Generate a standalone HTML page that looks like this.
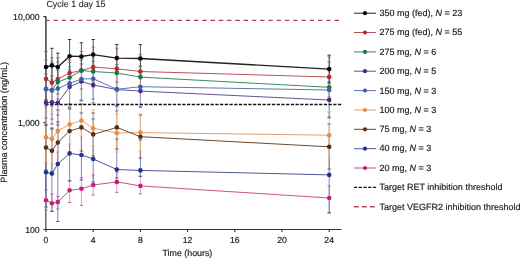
<!DOCTYPE html>
<html><head><meta charset="utf-8"><style>
html,body{margin:0;padding:0;background:#fff;}
svg{display:block;font-family:"Liberation Sans",sans-serif;will-change:transform;} text{text-rendering:geometricPrecision;stroke:#222;stroke-width:0.18px;}
</style></head><body>
<svg width="520" height="258" viewBox="0 0 520 258">
<rect width="520" height="258" fill="#fff"/>
<text x="46.4" y="6.8" font-size="8.95" fill="#2a2a2a" style="stroke-width:0.1px">Cycle 1 day 15</text>
<g stroke="#333" stroke-width="1.1" fill="none">
<path d="M45.85 16.3V230M45.4 229.5H341.5"/>
<path d="M43.3 16.6h2.6M43.3 122.6h2.6M43.3 229.5h2.6"/>
<path d="M46.0 229.5v2.6"/><path d="M93.2 229.5v2.6"/><path d="M140.4 229.5v2.6"/><path d="M187.6 229.5v2.6"/><path d="M234.8 229.5v2.6"/><path d="M282.0 229.5v2.6"/><path d="M329.2 229.5v2.6"/>
</g>
<g fill="none" stroke-width="0.85"><path d="M329.2 186.0V212.5" stroke="#e08cba"/><path d="M140.4 176.0V193.8" stroke="#e08cba"/><path d="M116.8 172.0V192.3" stroke="#e08cba"/><path d="M93.2 175.0V195.0" stroke="#e08cba"/><path d="M81.4 177.8V205.4" stroke="#e08cba"/><path d="M69.6 180.7V202.5" stroke="#e08cba"/><path d="M57.8 196.4V209.0" stroke="#e08cba"/><path d="M51.9 194.0V211.3" stroke="#e08cba"/><path d="M46.0 190.0V210.0" stroke="#e08cba"/><path d="M329.2 135.0V213.0" stroke="#6470b8"/><path d="M140.4 140.0V176.5" stroke="#6470b8"/><path d="M116.8 139.0V178.0" stroke="#6470b8"/><path d="M93.2 119.0V182.0" stroke="#6470b8"/><path d="M81.4 113.0V180.0" stroke="#6470b8"/><path d="M69.6 108.0V181.0" stroke="#6470b8"/><path d="M57.8 110.0V221.5" stroke="#6470b8"/><path d="M51.9 128.0V211.3" stroke="#6470b8"/><path d="M46.0 137.0V207.0" stroke="#6470b8"/><path d="M329.2 124.0V169.0" stroke="#9a7a64"/><path d="M140.4 115.0V158.0" stroke="#9a7a64"/><path d="M116.8 106.0V149.0" stroke="#9a7a64"/><path d="M93.2 113.0V156.0" stroke="#9a7a64"/><path d="M81.4 104.0V151.0" stroke="#9a7a64"/><path d="M69.6 109.0V153.0" stroke="#9a7a64"/><path d="M57.8 122.0V163.0" stroke="#9a7a64"/><path d="M51.9 129.0V172.0" stroke="#9a7a64"/><path d="M46.0 125.0V170.0" stroke="#9a7a64"/><path d="M329.2 112.0V158.0" stroke="#f4b98a"/><path d="M140.4 114.0V151.0" stroke="#f4b98a"/><path d="M116.8 114.0V152.0" stroke="#f4b98a"/><path d="M93.2 110.0V146.0" stroke="#f4b98a"/><path d="M81.4 104.0V137.0" stroke="#f4b98a"/><path d="M69.6 105.0V144.0" stroke="#f4b98a"/><path d="M57.8 110.0V152.0" stroke="#f4b98a"/><path d="M51.9 114.0V164.0" stroke="#f4b98a"/><path d="M46.0 112.0V162.0" stroke="#f4b98a"/><path d="M329.2 62.0V118.0" stroke="#8ea8d4"/><path d="M140.4 66.0V107.0" stroke="#8ea8d4"/><path d="M116.8 67.0V111.0" stroke="#8ea8d4"/><path d="M93.2 58.0V99.0" stroke="#8ea8d4"/><path d="M81.4 58.0V100.0" stroke="#8ea8d4"/><path d="M69.6 60.0V107.0" stroke="#8ea8d4"/><path d="M57.8 62.0V115.0" stroke="#8ea8d4"/><path d="M51.9 62.0V119.0" stroke="#8ea8d4"/><path d="M46.0 60.0V118.0" stroke="#8ea8d4"/><path d="M329.2 82.0V117.0" stroke="#9a8cc4"/><path d="M140.4 75.0V107.0" stroke="#9a8cc4"/><path d="M116.8 73.0V106.0" stroke="#9a8cc4"/><path d="M93.2 67.0V103.0" stroke="#9a8cc4"/><path d="M81.4 64.0V101.0" stroke="#9a8cc4"/><path d="M69.6 70.0V104.0" stroke="#9a8cc4"/><path d="M57.8 81.0V125.0" stroke="#9a8cc4"/><path d="M51.9 80.0V124.0" stroke="#9a8cc4"/><path d="M46.0 80.0V125.0" stroke="#9a8cc4"/><path d="M329.2 76.0V99.0" stroke="#7ab098"/><path d="M140.4 66.8V87.5" stroke="#7ab098"/><path d="M116.8 64.5V82.0" stroke="#7ab098"/><path d="M93.2 61.0V82.0" stroke="#7ab098"/><path d="M81.4 60.0V81.0" stroke="#7ab098"/><path d="M69.6 67.0V88.0" stroke="#7ab098"/><path d="M57.8 70.0V94.0" stroke="#7ab098"/><path d="M51.9 76.0V104.0" stroke="#7ab098"/><path d="M46.0 74.0V104.0" stroke="#7ab098"/><path d="M329.2 56.9V97.0" stroke="#d98890"/><path d="M140.4 54.8V88.0" stroke="#d98890"/><path d="M116.8 48.2V89.0" stroke="#d98890"/><path d="M93.2 47.0V87.0" stroke="#d98890"/><path d="M81.4 51.6V89.0" stroke="#d98890"/><path d="M69.6 62.5V84.0" stroke="#d98890"/><path d="M57.8 57.8V99.0" stroke="#d98890"/><path d="M51.9 57.8V106.0" stroke="#d98890"/><path d="M46.0 51.6V106.0" stroke="#d98890"/><path d="M329.2 55.2V83.0" stroke="#3a3a3a"/><path d="M140.4 44.6V72.5" stroke="#3a3a3a"/><path d="M116.8 44.6V71.5" stroke="#3a3a3a"/><path d="M93.2 39.5V70.0" stroke="#3a3a3a"/><path d="M81.4 42.8V70.0" stroke="#3a3a3a"/><path d="M69.6 39.5V73.0" stroke="#3a3a3a"/><path d="M57.8 53.2V80.0" stroke="#3a3a3a"/><path d="M51.9 48.3V82.0" stroke="#3a3a3a"/><path d="M46.0 16.6V100.0" stroke="#3a3a3a"/></g>
<g fill="none" stroke-width="0.9"><path d="M327.5 186.0h3.4M327.5 212.5h3.4" stroke="#c4558e"/><path d="M138.7 176.0h3.4M138.7 193.8h3.4" stroke="#c4558e"/><path d="M115.1 172.0h3.4M115.1 192.3h3.4" stroke="#c4558e"/><path d="M91.5 175.0h3.4M91.5 195.0h3.4" stroke="#c4558e"/><path d="M79.7 177.8h3.4M79.7 205.4h3.4" stroke="#c4558e"/><path d="M67.9 180.7h3.4M67.9 202.5h3.4" stroke="#c4558e"/><path d="M56.1 196.4h3.4M56.1 209.0h3.4" stroke="#c4558e"/><path d="M50.2 194.0h3.4M50.2 211.3h3.4" stroke="#c4558e"/><path d="M44.3 190.0h3.4M44.3 210.0h3.4" stroke="#c4558e"/><path d="M327.5 135.0h3.4M327.5 213.0h3.4" stroke="#4a5698"/><path d="M138.7 140.0h3.4M138.7 176.5h3.4" stroke="#4a5698"/><path d="M115.1 139.0h3.4M115.1 178.0h3.4" stroke="#4a5698"/><path d="M91.5 119.0h3.4M91.5 182.0h3.4" stroke="#4a5698"/><path d="M79.7 113.0h3.4M79.7 180.0h3.4" stroke="#4a5698"/><path d="M67.9 108.0h3.4M67.9 181.0h3.4" stroke="#4a5698"/><path d="M56.1 110.0h3.4M56.1 221.5h3.4" stroke="#4a5698"/><path d="M50.2 128.0h3.4M50.2 211.3h3.4" stroke="#4a5698"/><path d="M44.3 137.0h3.4M44.3 207.0h3.4" stroke="#4a5698"/><path d="M327.5 124.0h3.4M327.5 169.0h3.4" stroke="#6a4a34"/><path d="M138.7 115.0h3.4M138.7 158.0h3.4" stroke="#6a4a34"/><path d="M115.1 106.0h3.4M115.1 149.0h3.4" stroke="#6a4a34"/><path d="M91.5 113.0h3.4M91.5 156.0h3.4" stroke="#6a4a34"/><path d="M79.7 104.0h3.4M79.7 151.0h3.4" stroke="#6a4a34"/><path d="M67.9 109.0h3.4M67.9 153.0h3.4" stroke="#6a4a34"/><path d="M56.1 122.0h3.4M56.1 163.0h3.4" stroke="#6a4a34"/><path d="M50.2 129.0h3.4M50.2 172.0h3.4" stroke="#6a4a34"/><path d="M44.3 125.0h3.4M44.3 170.0h3.4" stroke="#6a4a34"/><path d="M327.5 112.0h3.4M327.5 158.0h3.4" stroke="#e3a070"/><path d="M138.7 114.0h3.4M138.7 151.0h3.4" stroke="#e3a070"/><path d="M115.1 114.0h3.4M115.1 152.0h3.4" stroke="#e3a070"/><path d="M91.5 110.0h3.4M91.5 146.0h3.4" stroke="#e3a070"/><path d="M79.7 104.0h3.4M79.7 137.0h3.4" stroke="#e3a070"/><path d="M67.9 105.0h3.4M67.9 144.0h3.4" stroke="#e3a070"/><path d="M56.1 110.0h3.4M56.1 152.0h3.4" stroke="#e3a070"/><path d="M50.2 114.0h3.4M50.2 164.0h3.4" stroke="#e3a070"/><path d="M44.3 112.0h3.4M44.3 162.0h3.4" stroke="#e3a070"/><path d="M327.5 62.0h3.4M327.5 118.0h3.4" stroke="#5a7ab2"/><path d="M138.7 66.0h3.4M138.7 107.0h3.4" stroke="#5a7ab2"/><path d="M115.1 67.0h3.4M115.1 111.0h3.4" stroke="#5a7ab2"/><path d="M91.5 58.0h3.4M91.5 99.0h3.4" stroke="#5a7ab2"/><path d="M79.7 58.0h3.4M79.7 100.0h3.4" stroke="#5a7ab2"/><path d="M67.9 60.0h3.4M67.9 107.0h3.4" stroke="#5a7ab2"/><path d="M56.1 62.0h3.4M56.1 115.0h3.4" stroke="#5a7ab2"/><path d="M50.2 62.0h3.4M50.2 119.0h3.4" stroke="#5a7ab2"/><path d="M44.3 60.0h3.4M44.3 118.0h3.4" stroke="#5a7ab2"/><path d="M327.5 82.0h3.4M327.5 117.0h3.4" stroke="#64509a"/><path d="M138.7 75.0h3.4M138.7 107.0h3.4" stroke="#64509a"/><path d="M115.1 73.0h3.4M115.1 106.0h3.4" stroke="#64509a"/><path d="M91.5 67.0h3.4M91.5 103.0h3.4" stroke="#64509a"/><path d="M79.7 64.0h3.4M79.7 101.0h3.4" stroke="#64509a"/><path d="M67.9 70.0h3.4M67.9 104.0h3.4" stroke="#64509a"/><path d="M56.1 81.0h3.4M56.1 125.0h3.4" stroke="#64509a"/><path d="M50.2 80.0h3.4M50.2 124.0h3.4" stroke="#64509a"/><path d="M44.3 80.0h3.4M44.3 125.0h3.4" stroke="#64509a"/><path d="M327.5 76.0h3.4M327.5 99.0h3.4" stroke="#3a8a60"/><path d="M138.7 66.8h3.4M138.7 87.5h3.4" stroke="#3a8a60"/><path d="M115.1 64.5h3.4M115.1 82.0h3.4" stroke="#3a8a60"/><path d="M91.5 61.0h3.4M91.5 82.0h3.4" stroke="#3a8a60"/><path d="M79.7 60.0h3.4M79.7 81.0h3.4" stroke="#3a8a60"/><path d="M67.9 67.0h3.4M67.9 88.0h3.4" stroke="#3a8a60"/><path d="M56.1 70.0h3.4M56.1 94.0h3.4" stroke="#3a8a60"/><path d="M50.2 76.0h3.4M50.2 104.0h3.4" stroke="#3a8a60"/><path d="M44.3 74.0h3.4M44.3 104.0h3.4" stroke="#3a8a60"/><path d="M327.5 56.9h3.4M327.5 97.0h3.4" stroke="#b8505a"/><path d="M138.7 54.8h3.4M138.7 88.0h3.4" stroke="#b8505a"/><path d="M115.1 48.2h3.4M115.1 89.0h3.4" stroke="#b8505a"/><path d="M91.5 47.0h3.4M91.5 87.0h3.4" stroke="#b8505a"/><path d="M79.7 51.6h3.4M79.7 89.0h3.4" stroke="#b8505a"/><path d="M67.9 62.5h3.4M67.9 84.0h3.4" stroke="#b8505a"/><path d="M56.1 57.8h3.4M56.1 99.0h3.4" stroke="#b8505a"/><path d="M50.2 57.8h3.4M50.2 106.0h3.4" stroke="#b8505a"/><path d="M44.3 51.6h3.4M44.3 106.0h3.4" stroke="#b8505a"/><path d="M327.5 55.2h3.4M327.5 83.0h3.4" stroke="#222222"/><path d="M138.7 44.6h3.4M138.7 72.5h3.4" stroke="#222222"/><path d="M115.1 44.6h3.4M115.1 71.5h3.4" stroke="#222222"/><path d="M91.5 39.5h3.4M91.5 70.0h3.4" stroke="#222222"/><path d="M79.7 42.8h3.4M79.7 70.0h3.4" stroke="#222222"/><path d="M67.9 39.5h3.4M67.9 73.0h3.4" stroke="#222222"/><path d="M56.1 53.2h3.4M56.1 80.0h3.4" stroke="#222222"/><path d="M50.2 48.3h3.4M50.2 82.0h3.4" stroke="#222222"/><path d="M44.3 100.0h3.4" stroke="#222222"/></g>
<line x1="45.4" y1="104.5" x2="341.3" y2="104.5" stroke="#111" stroke-width="1.35" stroke-dasharray="3.2 1.52"/>
<line x1="45.24" y1="20.4" x2="339" y2="20.4" stroke="#b43f4a" stroke-width="1.1" stroke-dasharray="4.4 3.865"/>
<g fill="none" stroke-width="1.0"><polyline points="46.0,67.0 51.9,65.4 57.8,67.0 69.6,56.2 81.4,56.5 93.2,54.6 116.8,58.1 140.4,58.5 329.2,69.1" stroke="#222222" stroke-width="1.3"/><polyline points="46.0,78.7 51.9,82.8 57.8,79.0 69.6,73.0 81.4,70.5 93.2,67.1 116.8,68.8 140.4,71.5 329.2,77.0" stroke="#b8505a"/><polyline points="46.0,89.3 51.9,90.0 57.8,82.1 69.6,77.5 81.4,70.6 93.2,71.5 116.8,73.0 140.4,77.1 329.2,87.3" stroke="#3a8a60"/><polyline points="46.0,102.6 51.9,102.2 57.8,102.9 69.6,86.8 81.4,81.5 93.2,85.0 116.8,89.5 140.4,91.1 329.2,100.0" stroke="#64509a"/><polyline points="46.0,88.9 51.9,90.5 57.8,88.6 69.6,83.4 81.4,79.0 93.2,78.7 116.8,89.3 140.4,86.7 329.2,90.0" stroke="#5a7ab2"/><polyline points="46.0,137.3 51.9,139.1 57.8,130.9 69.6,124.4 81.4,120.5 93.2,128.2 116.8,133.0 140.4,132.6 329.2,135.2" stroke="#e3a070"/><polyline points="46.0,147.5 51.9,150.8 57.8,142.5 69.6,131.0 81.4,127.4 93.2,134.4 116.8,127.4 140.4,136.7 329.2,146.8" stroke="#6a4a34"/><polyline points="46.0,172.3 51.9,173.6 57.8,164.0 69.6,153.4 81.4,155.0 93.2,159.0 116.8,169.5 140.4,170.4 329.2,174.9" stroke="#4a5698"/><polyline points="46.0,200.2 51.9,203.3 57.8,202.1 69.6,190.3 81.4,188.8 93.2,185.0 116.8,181.9 140.4,185.9 329.2,198.0" stroke="#c4558e"/></g>
<g><circle cx="46.0" cy="67.0" r="2.3" fill="#0a0a0a"/><circle cx="51.9" cy="65.4" r="2.3" fill="#0a0a0a"/><circle cx="57.8" cy="67.0" r="2.3" fill="#0a0a0a"/><circle cx="69.6" cy="56.2" r="2.3" fill="#0a0a0a"/><circle cx="81.4" cy="56.5" r="2.3" fill="#0a0a0a"/><circle cx="93.2" cy="54.6" r="2.3" fill="#0a0a0a"/><circle cx="116.8" cy="58.1" r="2.3" fill="#0a0a0a"/><circle cx="140.4" cy="58.5" r="2.3" fill="#0a0a0a"/><circle cx="329.2" cy="69.1" r="2.3" fill="#0a0a0a"/><circle cx="46.0" cy="78.7" r="2.3" fill="#c0272d"/><circle cx="51.9" cy="82.8" r="2.3" fill="#c0272d"/><circle cx="57.8" cy="79.0" r="2.3" fill="#c0272d"/><circle cx="69.6" cy="73.0" r="2.3" fill="#c0272d"/><circle cx="81.4" cy="70.5" r="2.3" fill="#c0272d"/><circle cx="93.2" cy="67.1" r="2.3" fill="#c0272d"/><circle cx="116.8" cy="68.8" r="2.3" fill="#c0272d"/><circle cx="140.4" cy="71.5" r="2.3" fill="#c0272d"/><circle cx="329.2" cy="77.0" r="2.3" fill="#c0272d"/><circle cx="46.0" cy="89.3" r="2.3" fill="#127a43"/><circle cx="51.9" cy="90.0" r="2.3" fill="#127a43"/><circle cx="57.8" cy="82.1" r="2.3" fill="#127a43"/><circle cx="69.6" cy="77.5" r="2.3" fill="#127a43"/><circle cx="81.4" cy="70.6" r="2.3" fill="#127a43"/><circle cx="93.2" cy="71.5" r="2.3" fill="#127a43"/><circle cx="116.8" cy="73.0" r="2.3" fill="#127a43"/><circle cx="140.4" cy="77.1" r="2.3" fill="#127a43"/><circle cx="329.2" cy="87.3" r="2.3" fill="#127a43"/><circle cx="46.0" cy="102.6" r="2.3" fill="#4b2a8a"/><circle cx="51.9" cy="102.2" r="2.3" fill="#4b2a8a"/><circle cx="57.8" cy="102.9" r="2.3" fill="#4b2a8a"/><circle cx="69.6" cy="86.8" r="2.3" fill="#4b2a8a"/><circle cx="81.4" cy="81.5" r="2.3" fill="#4b2a8a"/><circle cx="93.2" cy="85.0" r="2.3" fill="#4b2a8a"/><circle cx="116.8" cy="89.5" r="2.3" fill="#4b2a8a"/><circle cx="140.4" cy="91.1" r="2.3" fill="#4b2a8a"/><circle cx="329.2" cy="100.0" r="2.3" fill="#4b2a8a"/><circle cx="46.0" cy="88.9" r="2.3" fill="#3a62aa"/><circle cx="51.9" cy="90.5" r="2.3" fill="#3a62aa"/><circle cx="57.8" cy="88.6" r="2.3" fill="#3a62aa"/><circle cx="69.6" cy="83.4" r="2.3" fill="#3a62aa"/><circle cx="81.4" cy="79.0" r="2.3" fill="#3a62aa"/><circle cx="93.2" cy="78.7" r="2.3" fill="#3a62aa"/><circle cx="116.8" cy="89.3" r="2.3" fill="#3a62aa"/><circle cx="140.4" cy="86.7" r="2.3" fill="#3a62aa"/><circle cx="329.2" cy="90.0" r="2.3" fill="#3a62aa"/><circle cx="46.0" cy="137.3" r="2.3" fill="#ee8a3f"/><circle cx="51.9" cy="139.1" r="2.3" fill="#ee8a3f"/><circle cx="57.8" cy="130.9" r="2.3" fill="#ee8a3f"/><circle cx="69.6" cy="124.4" r="2.3" fill="#ee8a3f"/><circle cx="81.4" cy="120.5" r="2.3" fill="#ee8a3f"/><circle cx="93.2" cy="128.2" r="2.3" fill="#ee8a3f"/><circle cx="116.8" cy="133.0" r="2.3" fill="#ee8a3f"/><circle cx="140.4" cy="132.6" r="2.3" fill="#ee8a3f"/><circle cx="329.2" cy="135.2" r="2.3" fill="#ee8a3f"/><circle cx="46.0" cy="147.5" r="2.3" fill="#5a2e12"/><circle cx="51.9" cy="150.8" r="2.3" fill="#5a2e12"/><circle cx="57.8" cy="142.5" r="2.3" fill="#5a2e12"/><circle cx="69.6" cy="131.0" r="2.3" fill="#5a2e12"/><circle cx="81.4" cy="127.4" r="2.3" fill="#5a2e12"/><circle cx="93.2" cy="134.4" r="2.3" fill="#5a2e12"/><circle cx="116.8" cy="127.4" r="2.3" fill="#5a2e12"/><circle cx="140.4" cy="136.7" r="2.3" fill="#5a2e12"/><circle cx="329.2" cy="146.8" r="2.3" fill="#5a2e12"/><circle cx="46.0" cy="172.3" r="2.3" fill="#25338c"/><circle cx="51.9" cy="173.6" r="2.3" fill="#25338c"/><circle cx="57.8" cy="164.0" r="2.3" fill="#25338c"/><circle cx="69.6" cy="153.4" r="2.3" fill="#25338c"/><circle cx="81.4" cy="155.0" r="2.3" fill="#25338c"/><circle cx="93.2" cy="159.0" r="2.3" fill="#25338c"/><circle cx="116.8" cy="169.5" r="2.3" fill="#25338c"/><circle cx="140.4" cy="170.4" r="2.3" fill="#25338c"/><circle cx="329.2" cy="174.9" r="2.3" fill="#25338c"/><circle cx="46.0" cy="200.2" r="2.3" fill="#cc1a7c"/><circle cx="51.9" cy="203.3" r="2.3" fill="#cc1a7c"/><circle cx="57.8" cy="202.1" r="2.3" fill="#cc1a7c"/><circle cx="69.6" cy="190.3" r="2.3" fill="#cc1a7c"/><circle cx="81.4" cy="188.8" r="2.3" fill="#cc1a7c"/><circle cx="93.2" cy="185.0" r="2.3" fill="#cc1a7c"/><circle cx="116.8" cy="181.9" r="2.3" fill="#cc1a7c"/><circle cx="140.4" cy="185.9" r="2.3" fill="#cc1a7c"/><circle cx="329.2" cy="198.0" r="2.3" fill="#cc1a7c"/></g>
<g font-size="8.7" fill="#222">
<text x="39.7" y="20" text-anchor="end">10,000</text>
<text x="39.7" y="126" text-anchor="end">1,000</text>
<text x="39.7" y="232.6" text-anchor="end">100</text>
<text x="46.0" y="243" text-anchor="middle">0</text><text x="93.2" y="243" text-anchor="middle">4</text><text x="140.4" y="243" text-anchor="middle">8</text><text x="187.6" y="243" text-anchor="middle">12</text><text x="234.8" y="243" text-anchor="middle">16</text><text x="282.0" y="243" text-anchor="middle">20</text><text x="329.2" y="243" text-anchor="middle">24</text>
<text x="187.4" y="255.5" text-anchor="middle" font-size="8.85">Time (hours)</text>
<text transform="translate(6.8,122.3) rotate(-90)" text-anchor="middle" font-size="9.05">Plasma concentration (ng/mL)</text>
</g>
<g font-size="9" fill="#222"><line x1="354" y1="13.2" x2="376" y2="13.2" stroke="#222222" stroke-width="1"/><circle cx="365" cy="13.2" r="2.1" fill="#0a0a0a"/><text x="379.5" y="16">350 mg (fed), <tspan font-style="italic">N</tspan> = 23</text><line x1="354" y1="32.5" x2="376" y2="32.5" stroke="#b8505a" stroke-width="1"/><circle cx="365" cy="32.5" r="2.1" fill="#c0272d"/><text x="379.5" y="35">275 mg (fed), <tspan font-style="italic">N</tspan> = 55</text><line x1="354" y1="51.9" x2="376" y2="51.9" stroke="#3a8a60" stroke-width="1"/><circle cx="365" cy="51.9" r="2.1" fill="#127a43"/><text x="379.5" y="55">275 mg, <tspan font-style="italic">N</tspan> = 6</text><line x1="354" y1="71.2" x2="376" y2="71.2" stroke="#64509a" stroke-width="1"/><circle cx="365" cy="71.2" r="2.1" fill="#4b2a8a"/><text x="379.5" y="74">200 mg, <tspan font-style="italic">N</tspan> = 5</text><line x1="354" y1="90.6" x2="376" y2="90.6" stroke="#5a7ab2" stroke-width="1"/><circle cx="365" cy="90.6" r="2.1" fill="#3a62aa"/><text x="379.5" y="94">150 mg, <tspan font-style="italic">N</tspan> = 3</text><line x1="354" y1="110.0" x2="376" y2="110.0" stroke="#e3a070" stroke-width="1"/><circle cx="365" cy="110.0" r="2.1" fill="#ee8a3f"/><text x="379.5" y="113">100 mg, <tspan font-style="italic">N</tspan> = 3</text><line x1="354" y1="129.3" x2="376" y2="129.3" stroke="#6a4a34" stroke-width="1"/><circle cx="365" cy="129.3" r="2.1" fill="#5a2e12"/><text x="379.5" y="132">75 mg, <tspan font-style="italic">N</tspan> = 3</text><line x1="354" y1="148.7" x2="376" y2="148.7" stroke="#4a5698" stroke-width="1"/><circle cx="365" cy="148.7" r="2.1" fill="#25338c"/><text x="379.5" y="151">40 mg, <tspan font-style="italic">N</tspan> = 3</text><line x1="354" y1="168.0" x2="376" y2="168.0" stroke="#c4558e" stroke-width="1"/><circle cx="365" cy="168.0" r="2.1" fill="#cc1a7c"/><text x="379.5" y="171">20 mg, <tspan font-style="italic">N</tspan> = 3</text><line x1="354" y1="187.3" x2="376.1" y2="187.3" stroke="#111" stroke-width="1.35" stroke-dasharray="3.2 1.52"/><text x="379.5" y="190">Target RET inhibition threshold</text><line x1="353.8" y1="206.7" x2="375.5" y2="206.7" stroke="#b4505a" stroke-width="1.6" stroke-dasharray="5.1 2.9"/><text x="379.5" y="210">Target VEGFR2 inhibition threshold</text></g>
</svg>
</body></html>
